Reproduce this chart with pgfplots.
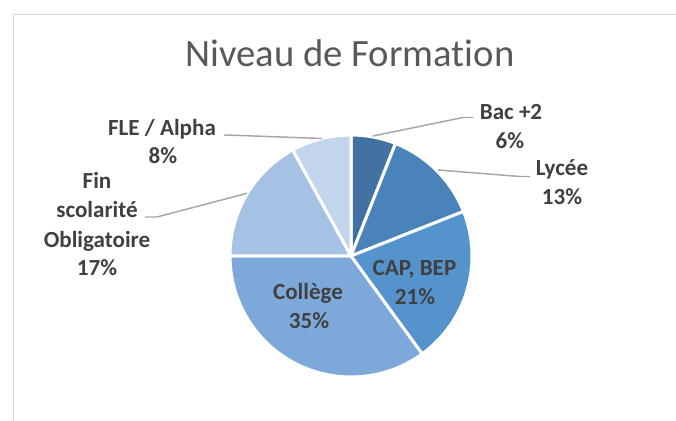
\documentclass[border=0pt]{standalone}
\usepackage{pgfplots}
\pgfplotsset{compat=1.18}
\usepackage{pgfplotstable}
\usepackage{fontspec}
\setmainfont{Carlito}[Ligatures=NoCommon]
\definecolor{pc0}{HTML}{4172A3}
\definecolor{pc1}{HTML}{4A82BA}
\definecolor{pc2}{HTML}{5593CC}
\definecolor{pc3}{HTML}{7DA9DA}
\definecolor{pc4}{HTML}{A5C1E4}
\definecolor{pc5}{HTML}{C3D5EC}
\definecolor{txt}{HTML}{404040}
\definecolor{ttl}{HTML}{595959}
\definecolor{lead}{HTML}{A6A6A6}
\definecolor{frame}{HTML}{D9D9D9}

\pgfplotstableread{
label value
Bac 6
Lycee 13
CAP 21
College 35
Fin 17
FLE 8
}\pietable

% cumulative angles (clockwise from 12 o'clock)
\gdef\cum{0}
\foreach \i in {0,...,5}{%
  \pgfplotstablegetelem{\i}{value}\of\pietable
  \pgfmathsetmacro\s{90-3.6*\cum}%
  \pgfmathsetmacro\e{\s-3.6*\pgfplotsretval}%
  \expandafter\xdef\csname pS\i\endcsname{\s}%
  \expandafter\xdef\csname pE\i\endcsname{\e}%
  \pgfmathsetmacro\nc{\cum+\pgfplotsretval}%
  \xdef\cum{\nc}%
}

\newcommand\lbl{\color{txt}\bfseries\fontsize{17.3}{20}\selectfont}

\begin{document}
\begin{tikzpicture}
\begin{axis}[name=ax, hide axis, clip=false,
  x=0.75pt, y=0.75pt, xmin=0, xmax=676, ymin=0, ymax=421]
% frame
\draw[frame, line width=1.1pt] (axis cs:13.7,0) -- (axis cs:13.7,406.5) -- (axis cs:676,406.5);
% title
\node[anchor=base, inner sep=0, text=ttl, font=\fontsize{29}{34}\selectfont] at (axis cs:350,354.3) {Niveau de Formation};
% slices
\pgfplotsinvokeforeach{0,...,5}{
  \filldraw[fill=pc#1, draw=white, line width=2.25pt, line join=round]
    (axis cs:351,165) -- (axis cs:{351+121*cos(\csname pS#1\endcsname)},{165+121*sin(\csname pS#1\endcsname)})
    arc[start angle=\csname pS#1\endcsname, end angle=\csname pE#1\endcsname, radius=90.75pt] -- cycle;
}
% leader lines
\draw[lead, line width=1.1pt] (axis cs:373,285) -- (axis cs:463,303.5) -- (axis cs:473,303.5);
\draw[lead, line width=1.1pt] (axis cs:438,251) -- (axis cs:520,244.5) -- (axis cs:530,244.5);
\draw[lead, line width=1.1pt] (axis cs:322,282.5) -- (axis cs:235,285.7) -- (axis cs:224,286);
\draw[lead, line width=1.1pt] (axis cs:247,227.7) -- (axis cs:157,204) -- (axis cs:145,204);
% labels
\node[anchor=base, inner sep=0, font=\lbl] at (axis cs:511,301.7) {Bac +2};
\node[anchor=base, inner sep=0, font=\lbl] at (axis cs:510,272.7) {6\%};
\node[anchor=base, inner sep=0, font=\lbl] at (axis cs:562,245.5) {Lycée};
\node[anchor=base, inner sep=0, font=\lbl] at (axis cs:562,216) {13\%};
\node[anchor=base, inner sep=0, font=\lbl] at (axis cs:414.5,145) {CAP, BEP};
\node[anchor=base, inner sep=0, font=\lbl] at (axis cs:415,116) {21\%};
\node[anchor=base, inner sep=0, font=\lbl] at (axis cs:308,121) {Collège};
\node[anchor=base, inner sep=0, font=\lbl] at (axis cs:309,92.7) {35\%};
\node[anchor=base, inner sep=0, font=\lbl] at (axis cs:162,285) {FLE / Alpha};
\node[anchor=base, inner sep=0, font=\lbl] at (axis cs:163,257) {8\%};
\node[anchor=base, inner sep=0, font=\lbl] at (axis cs:97,232) {Fin};
\node[anchor=base, inner sep=0, font=\lbl] at (axis cs:97,203.5) {scolarité};
\node[anchor=base, inner sep=0, font=\lbl] at (axis cs:97,173.7) {Obligatoire};
\node[anchor=base, inner sep=0, font=\lbl] at (axis cs:97,145) {17\%};
\end{axis}
\pgfresetboundingbox
\path[use as bounding box] (ax.south west) rectangle (ax.north east);
\end{tikzpicture}
\end{document}
